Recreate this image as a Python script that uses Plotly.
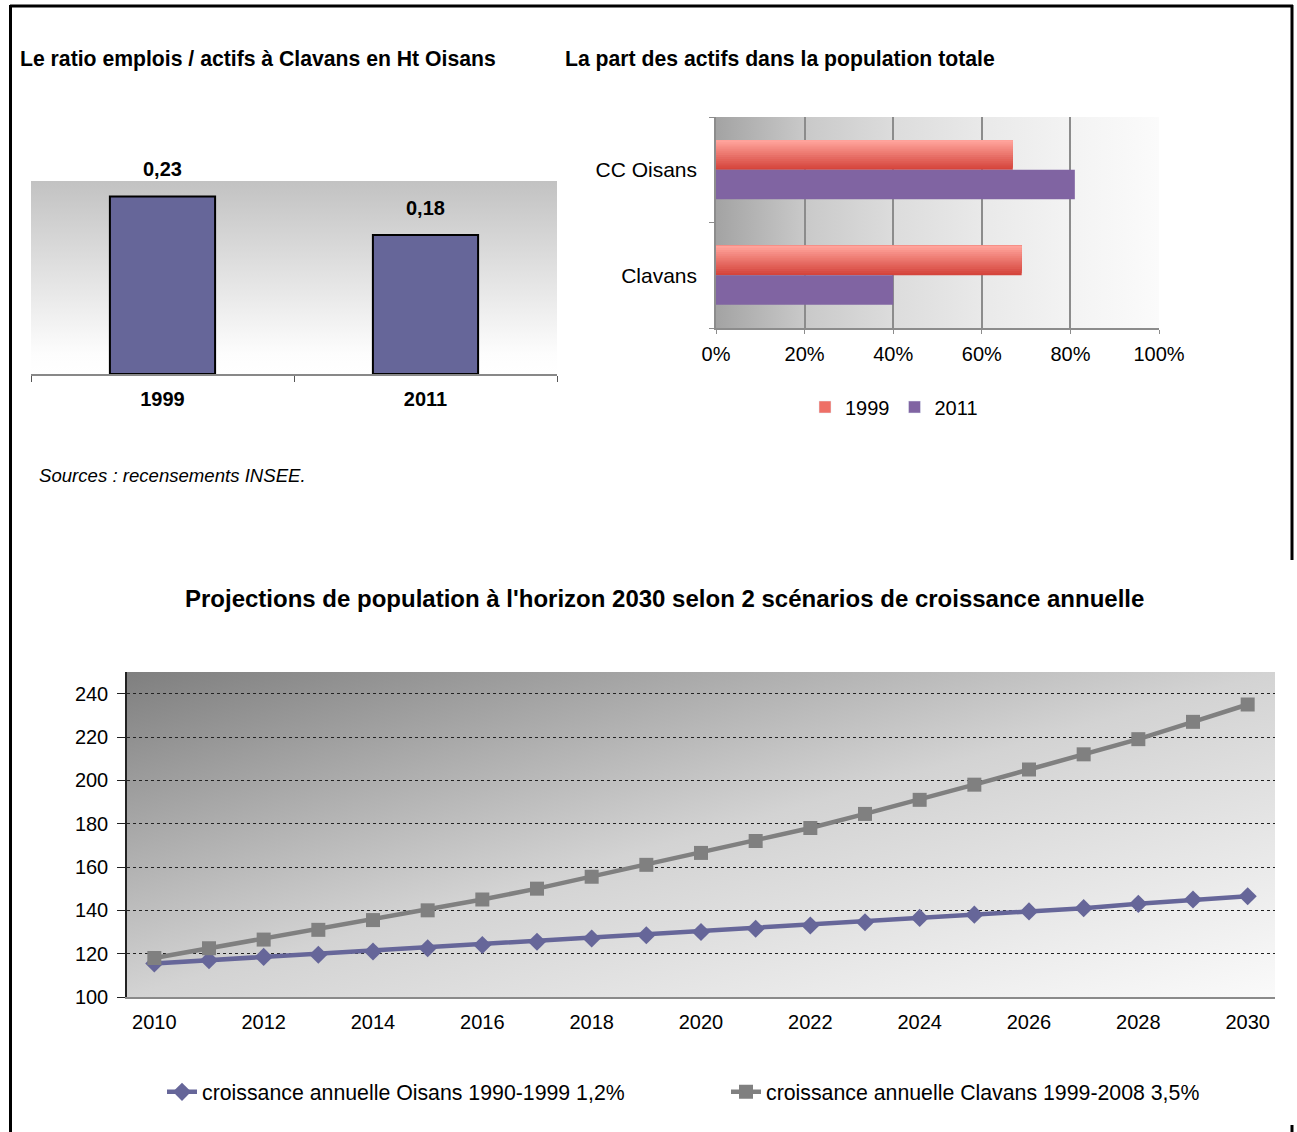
import base64
import plotly.graph_objects as go

W, H = 1297, 1132
FONT = "Arial, 'Liberation Sans', sans-serif"

# --- Ratio emplois / actifs
ratio_years = ["1999", "2011"]
ratio_values = [0.23, 0.18]

# --- Part des actifs dans la population totale
part_places = ["Clavans", "CC Oisans"]
part_1999 = [0.69, 0.67]
part_2011 = [0.40, 0.81]

# --- Projections de population
proj_years = list(range(2010, 2031))
proj_oisans = [115.5, 117, 118.5, 119.5, 121, 122.5, 124, 125.5, 127, 128.5, 130,
               131.5, 133, 134.5, 136.5, 138, 139.5, 141, 143, 145, 146.5]
proj_clavans = [118, 122.5, 126.5, 131, 135.5, 140, 145, 150, 155.5, 161, 166.5,
                172, 178, 184.5, 191, 198, 205, 212, 219, 227, 235]
proj_labels = ["croissance annuelle Oisans 1990-1999 1,2%",
               "croissance annuelle Clavans 1999-2008 3,5%"]


def px(x):
    return x / W


def py(y):
    return 1 - y / H


def gradient_uri(x2, y2, stops):
    st = "".join(f'<stop offset="{o}" stop-color="{c}"/>' for o, c in stops)
    svg = ('<svg xmlns="http://www.w3.org/2000/svg" width="200" height="200" '
           'viewBox="0 0 200 200" preserveAspectRatio="none"><defs>'
           f'<linearGradient id="g" x1="0" y1="0" x2="{x2}" y2="{y2}">{st}</linearGradient>'
           '</defs><rect width="200" height="200" fill="url(#g)"/></svg>')
    return "data:image/svg+xml;base64," + base64.b64encode(svg.encode()).decode()


def bg_image(x0, y0, x1, y1, uri):
    return dict(source=uri, xref="paper", yref="paper", x=px(x0), y=py(y0),
                sizex=px(x1) - px(x0), sizey=py(y0) - py(y1),
                xanchor="left", yanchor="top", sizing="stretch", layer="below")


def mix(c1, c2, t):
    a = [int(c1[i:i + 2], 16) for i in (1, 3, 5)]
    b = [int(c2[i:i + 2], 16) for i in (1, 3, 5)]
    return "#" + "".join(f"{round(a[k] + (b[k] - a[k]) * t):02x}" for k in range(3))


fig = go.Figure()

# ---------- Bar chart: ratio emplois / actifs ----------
fig.add_trace(go.Bar(
    x=ratio_years, y=ratio_values, width=0.4,
    marker=dict(color="#666699", line=dict(color="black", width=2)),
    xaxis="x", yaxis="y", showlegend=False, hoverinfo="skip"))

# value labels above the bars (category index as position)
for i, v in enumerate(ratio_values):
    fig.add_annotation(x=i, y=v, xref="x", yref="y", text=f"{v:.2f}".replace(".", ","),
                       showarrow=False, yanchor="bottom", yshift=14,
                       font=dict(family=FONT, size=20, color="black", weight="bold"))

# ---------- Horizontal bars: part des actifs ----------
# 1999 bars: stacked overlapping slices give a red-to-pink vertical shading
bar_w = 0.28
n_slices = 14
light, dark = "#ffa39b", "#d5453c"
for i in range(n_slices):
    t = i / (n_slices - 1)
    fig.add_trace(go.Bar(
        y=part_places, x=part_1999, orientation="h",
        width=bar_w - i * bar_w / n_slices, offset=i * bar_w / n_slices,
        marker=dict(color=mix(dark, light, t), line=dict(width=0)),
        xaxis="x2", yaxis="y2", showlegend=False, hoverinfo="skip"))
fig.add_trace(go.Bar(
    y=part_places, x=part_2011, orientation="h", width=bar_w, offset=-bar_w,
    marker=dict(color="#8064a2", line=dict(width=0)),
    xaxis="x2", yaxis="y2", showlegend=False, hoverinfo="skip"))
# legend entries
fig.add_trace(go.Bar(y=[None], x=[None], orientation="h", name="1999",
                     marker=dict(color="#ee6f66"), xaxis="x2", yaxis="y2", legend="legend2"))
fig.add_trace(go.Bar(y=[None], x=[None], orientation="h", name="2011",
                     marker=dict(color="#8064a2"), xaxis="x2", yaxis="y2", legend="legend2"))

# ---------- Line chart: projections ----------
fig.add_trace(go.Scatter(
    x=proj_years, y=proj_oisans, name=proj_labels[0], mode="lines+markers",
    line=dict(color="#666699", width=4.5),
    marker=dict(symbol="diamond", size=14, color="#666699"),
    xaxis="x3", yaxis="y3", legend="legend"))
fig.add_trace(go.Scatter(
    x=proj_years, y=proj_clavans, name=proj_labels[1], mode="lines+markers",
    line=dict(color="#808080", width=4.5),
    marker=dict(symbol="square", size=14, color="#808080"),
    xaxis="x3", yaxis="y3", legend="legend"))

# ---------- Titles & notes ----------
fig.add_annotation(x=px(18), y=py(59), xref="paper", yref="paper", xanchor="left", yanchor="middle",
                   text="Le ratio emplois / actifs à Clavans en Ht Oisans", showarrow=False,
                   font=dict(family=FONT, size=21.2, color="black", weight="bold"))
fig.add_annotation(x=px(563), y=py(59), xref="paper", yref="paper", xanchor="left", yanchor="middle",
                   text="La part des actifs dans la population totale", showarrow=False,
                   font=dict(family=FONT, size=21.2, color="black", weight="bold"))
fig.add_annotation(x=px(37), y=py(475), xref="paper", yref="paper", xanchor="left", yanchor="middle",
                   text="<i>Sources : recensements INSEE.</i>", showarrow=False,
                   font=dict(family=FONT, size=18.6, color="black"))
fig.add_annotation(x=px(664), y=py(598), xref="paper", yref="paper", xanchor="center", yanchor="middle",
                   text="Projections de population à l'horizon 2030 selon 2 scénarios de croissance annuelle",
                   showarrow=False, font=dict(family=FONT, size=24, color="black", weight="bold"))

# ---------- Frame ----------
frame = dict(type="line", xref="paper", yref="paper", line=dict(color="black", width=3), layer="above")
shapes = [
    dict(frame, x0=px(10), x1=px(1293), y0=py(6), y1=py(6)),
    dict(frame, x0=px(10.5), x1=px(10.5), y0=py(5), y1=py(1132)),
    dict(frame, x0=px(1292), x1=px(1292), y0=py(5), y1=py(560)),
    dict(frame, x0=px(1292), x1=px(1292), y0=py(1125), y1=py(1132)),
]

images = [
    bg_image(31, 181, 557, 374, gradient_uri(0, 1, [(0, "#c2c2c2"), (0.5, "#e3e3e3"), (0.9, "#fdfdfd"), (1, "#ffffff")])),
    bg_image(716, 117, 1159, 328, gradient_uri(1, 0, [(0, "#a3a3a3"), (0.2, "#c9c9c9"), (0.4, "#dcdcdc"),
                                                     (0.6, "#e9e9e9"), (0.8, "#f3f3f3"), (1, "#fbfbfb")])),
    bg_image(127, 672, 1275, 997, gradient_uri(1, 1, [(0, "#7f7f7f"), (0.5, "#d3d3d3"), (1, "#fafafa")])),
]

tick_font = dict(family=FONT, size=20, color="black")

fig.update_layout(
    width=W, height=H, margin=dict(l=0, r=0, t=0, b=0, autoexpand=False),
    paper_bgcolor="white", plot_bgcolor="rgba(0,0,0,0)",
    font=dict(family=FONT, color="black"),
    barmode="overlay",
    shapes=shapes, images=images,
    # ratio chart
    xaxis=dict(domain=[px(31), px(557)], anchor="y", type="category", range=[-0.5, 1.5],
               showline=True, linecolor="#888888", linewidth=1.5, ticks="outside", tickson="boundaries",
               ticklen=6, tickcolor="#555555", showgrid=False, zeroline=False,
               tickfont=dict(family=FONT, size=20, color="black", weight="bold"), ticklabelstandoff=6),
    yaxis=dict(domain=[py(374), py(181)], anchor="x", range=[0, 0.25], visible=False),
    # part des actifs chart
    xaxis2=dict(domain=[px(716), px(1159)], anchor="y2", range=[0, 1], tickvals=[0, 0.2, 0.4, 0.6, 0.8, 1],
                tickformat=".0%", showgrid=True, gridcolor="#8c8c8c", gridwidth=1.5,
                showline=True, linecolor="#8c8c8c", linewidth=1.5, ticks="outside", ticklen=4,
                tickcolor="#8c8c8c", zeroline=False, tickfont=tick_font, ticklabelstandoff=3),
    yaxis2=dict(domain=[py(328), py(117)], anchor="x2", type="category", range=[-0.5, 1.5],
                showline=True, linecolor="#8c8c8c", linewidth=1.5, ticks="outside", tickson="boundaries",
                ticklen=5, tickcolor="#8c8c8c", showgrid=False, zeroline=False,
                tickfont=dict(family=FONT, size=21, color="black"), ticklabelstandoff=13),
    # projections chart
    xaxis3=dict(domain=[px(127), px(1275)], anchor="y3", range=[2009.5, 2030.5],
                tickvals=proj_years[::2], ticks="outside", ticklen=2, tickcolor="rgba(0,0,0,0)",
                showline=True, linecolor="#8a8a8a", linewidth=1.5, showgrid=False, zeroline=False,
                tickfont=tick_font, ticklabelstandoff=4),
    xaxis4=dict(overlaying="x3", anchor="y3", range=[2009.5, 2030.5],
                tickvals=[y - 0.5 for y in proj_years[::2]], ticks="outside", ticklen=7,
                tickcolor="#333333", tickwidth=1, showticklabels=False, showgrid=False,
                showline=False, zeroline=False),
    yaxis3=dict(domain=[py(997), py(672)], anchor="x3", range=[100, 250],
                tickvals=list(range(100, 241, 20)), ticks="outside", ticklen=8, tickcolor="#222222",
                showline=True, linecolor="#222222", linewidth=1.5, showgrid=True, gridcolor="#222222",
                gridwidth=1, griddash="dot", zeroline=False, tickfont=tick_font, ticklabelstandoff=5),
    legend=dict(orientation="h", x=px(162), y=py(1092), xanchor="left", yanchor="middle",
                font=dict(family=FONT, size=21.3, color="black"), bgcolor="rgba(0,0,0,0)",
                entrywidth=519, entrywidthmode="pixels", traceorder="normal"),
    legend2=dict(orientation="h", x=px(805), y=py(407), xanchor="left", yanchor="middle",
                 font=dict(family=FONT, size=20, color="black"), bgcolor="rgba(0,0,0,0)",
                 itemwidth=30, traceorder="normal"),
)

fig.write_html("out.html")
